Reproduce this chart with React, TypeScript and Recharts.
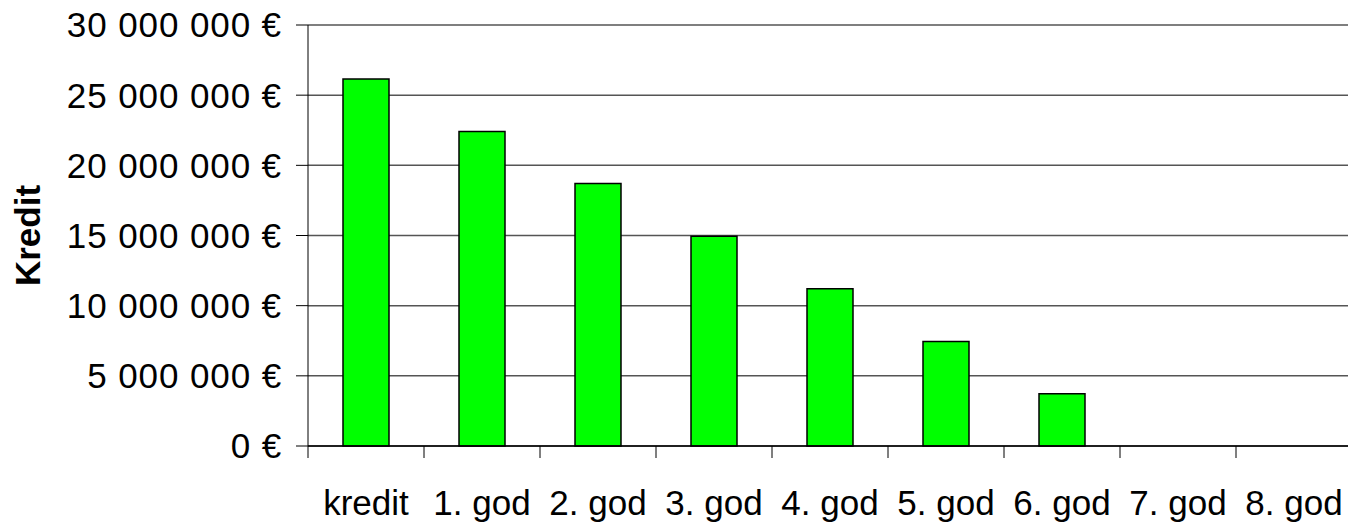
import React from "react";
import { BarChart, Bar, XAxis, YAxis, CartesianGrid } from "recharts";

const categories = ["kredit", "1. god", "2. god", "3. god", "4. god", "5. god", "6. god", "7. god", "8. god"];
const kredit = [26150000, 22410000, 18710000, 14950000, 11200000, 7450000, 3720000, 0, 0];
const yTicks = [0, 5000000, 10000000, 15000000, 20000000, 25000000, 30000000];

const data = categories.map((name, i) => ({ name, value: kredit[i] }));

const FONT = "'Liberation Sans', Arial, sans-serif";

function euro(v: number): string {
  const s = String(Math.round(v)).replace(/\B(?=(\d{3})+(?!\d))/g, " ");
  return `${s} €`;
}

// category label + tick marks between categories (Excel style)
function CategoryTick(props: any) {
  const { x, y, payload, index } = props;
  const half = payload?.offset ?? 0;
  const last = index === categories.length - 1;
  return (
    <g>
      <line x1={x - half} y1={y} x2={x - half} y2={y + 12} stroke="#000" strokeWidth={1} />
      {last && <line x1={x + half} y1={y} x2={x + half} y2={y + 12} stroke="#000" strokeWidth={1} />}
      <text x={x} y={y + 69} textAnchor="middle" fill="#000" fontSize={35} fontFamily={FONT}>
        {payload?.value}
      </text>
    </g>
  );
}

function AxisTitle(props: any) {
  const vb = props.viewBox || { x: 0, y: 0, height: 0 };
  return (
    <text
      transform={`translate(40, ${vb.y + vb.height / 2}) rotate(-90)`}
      textAnchor="middle"
      fill="#000"
      fontSize={35}
      fontWeight={700}
      fontFamily={FONT}
    >
      Kredit
    </text>
  );
}

export default function App() {
  return (
    <div style={{ width: 1348, height: 523, overflow: "hidden", background: "#fff" }}>
      <style>{"body{margin:0}"}</style>
      <BarChart width={1352} height={523} data={data} margin={{ top: 25, right: 0, bottom: 0, left: 0 }} barSize={46}>
        <CartesianGrid vertical={false} stroke="#555" strokeWidth={1.5} />
        <XAxis
          dataKey="name"
          height={77}
          axisLine={{ stroke: "#000", strokeWidth: 1.5 }}
          tickLine={false}
          tickSize={0}
          tickMargin={0}
          interval={0}
          tick={<CategoryTick />}
        />
        <YAxis
          width={308}
          domain={[0, 30000000]}
          ticks={yTicks}
          tickFormatter={euro}
          axisLine={{ stroke: "#000", strokeWidth: 1 }}
          tickLine={{ stroke: "#000" }}
          tickSize={12}
          tickMargin={14}
          tick={{ fill: "#000", fontSize: 35, fontFamily: FONT, letterSpacing: 0.9 }}
          label={<AxisTitle />}
        />
        <Bar dataKey="value" fill="#00ff00" stroke="#000" strokeWidth={1.5} isAnimationActive={false} />
      </BarChart>
    </div>
  );
}
